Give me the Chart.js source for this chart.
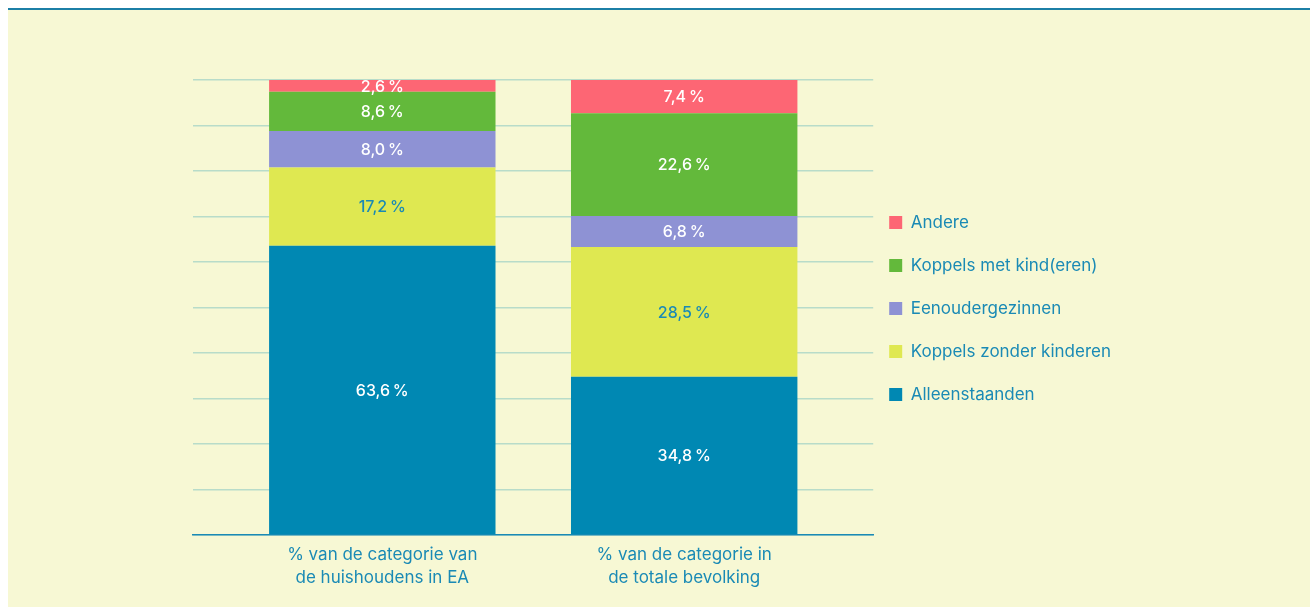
<!DOCTYPE html>
<html>
<head>
<meta charset="utf-8">
<script src="https://cdn.jsdelivr.net/npm/chart.js@4/dist/chart.umd.min.js"></script>
<style>
  body { margin: 0; background: #fff; width: 1310px; height: 607px; overflow: hidden; }
  #kader { position: absolute; left: 8px; top: 8px; width: 1302px; height: 599px;
           background: #f7f8d4; border-top: 2px solid #1c7fa6; box-sizing: border-box; }
  #grafiek { position: absolute; left: 0; top: 0; }
</style>
</head>
<body>
<div id="kader"><canvas id="grafiek" width="1302" height="597"></canvas></div>
<script>
const categorieen = [
    ["% van de categorie van", "de huishoudens in EA"],
    ["% van de categorie in", "de totale bevolking"]
]
const alleenstaanden = [63.6, 34.8]
const koppels_zonder = [17.2, 28.5]
const eenouder = [8.0, 6.8]
const koppels_met = [8.6, 22.6]
const andere = [2.6, 7.4]

const tekstkleur = "#1a8ab5"

const reeksen = [
    { label: "Alleenstaanden", data: alleenstaanden, kleur: "#0088b3", tekst: "#ffffff" },
    { label: "Koppels zonder kinderen", data: koppels_zonder, kleur: "#dfe851", tekst: tekstkleur },
    { label: "Eenoudergezinnen", data: eenouder, kleur: "#8e92d4", tekst: "#ffffff" },
    { label: "Koppels met kind(eren)", data: koppels_met, kleur: "#63b93b", tekst: "#ffffff" },
    { label: "Andere", data: andere, kleur: "#fd6674", tekst: "#ffffff" }
]

const datasets = reeksen.map((r) => {
    return {
        label: r.label,
        data: r.data.map((v, i) => ({ x: i, y: v })),
        backgroundColor: r.kleur,
        borderWidth: 0,
        stack: "huishoudens",
        categoryPercentage: 1,
        barPercentage: 0.75,
        tekstKleur: r.tekst
    }
})

// percentages in de balken
const labelsPlugin = {
    id: "labels",
    afterDatasetsDraw(chart) {
        const ctx = chart.ctx
        const area = chart.chartArea
        ctx.save()
        ctx.beginPath()
        ctx.rect(area.left, area.top, area.right - area.left, area.bottom - area.top)
        ctx.clip()
        ctx.font = "500 16px Inter, 'Noto Sans', sans-serif"
        ctx.textAlign = "center"
        ctx.textBaseline = "middle"
        chart.data.datasets.forEach((ds, d) => {
            const meta = chart.getDatasetMeta(d)
            meta.data.forEach((bar, i) => {
                const waarde = ds.data[i].y
                const tekst = waarde.toFixed(1).replace(".", ",") + "\u202F%"
                ctx.fillStyle = ds.tekstKleur
                ctx.fillText(tekst, bar.x, (bar.y + bar.base) / 2 + 1)
            })
        })
        ctx.restore()
    }
}

const grafiek = new Chart(document.getElementById("grafiek"), {
    type: "bar",
    data: { datasets },
    options: {
        responsive: false,
        animation: false,
        layout: { padding: { top: 70, left: 0, bottom: 18, right: 189 } },
        scales: {
            x: {
                type: "linear",
                offset: false,
                min: -0.627,
                max: 1.626,
                afterBuildTicks: (scale) => {
                    scale.ticks = categorieen.map((c, i) => ({ value: i }))
                },
                ticks: {
                    callback: (v) => categorieen[v],
                    color: tekstkleur,
                    font: { family: "Inter, 'Noto Sans', sans-serif", size: 17, lineHeight: 1.35 },
                    padding: 0,
                    maxRotation: 0,
                    autoSkip: false
                },
                grid: { display: false },
                border: { color: tekstkleur, width: 1.5 }
            },
            y: {
                stacked: true,
                min: 0,
                max: 100,
                afterFit: (scale) => { scale.width = 185 },
                ticks: { display: false, stepSize: 10 },
                grid: { color: "#b8dcc9", lineWidth: 1.5, drawTicks: false },
                border: { display: false }
            }
        },
        plugins: {
            legend: {
                position: "right",
                fullSize: false,
                reverse: true,
                // lege titel schuift de items iets omlaag
                title: { display: true, text: " ", font: { size: 10 }, padding: 0 },
                labels: {
                    boxWidth: 13,
                    boxHeight: 13,
                    padding: 16,
                    color: tekstkleur,
                    font: { family: "Inter, 'Noto Sans', sans-serif", size: 17, lineHeight: 1.59 },
                    // tekst als lijst zodat de regelhoogte de afstand bepaalt
                    generateLabels: (chart) => {
                        const items = Chart.defaults.plugins.legend.labels.generateLabels(chart)
                        return items.map((it) => Object.assign(it, { text: [it.text] }))
                    }
                }
            },
            tooltip: { enabled: false }
        }
    },
    plugins: [labelsPlugin]
})
</script>
</body>
</html>
